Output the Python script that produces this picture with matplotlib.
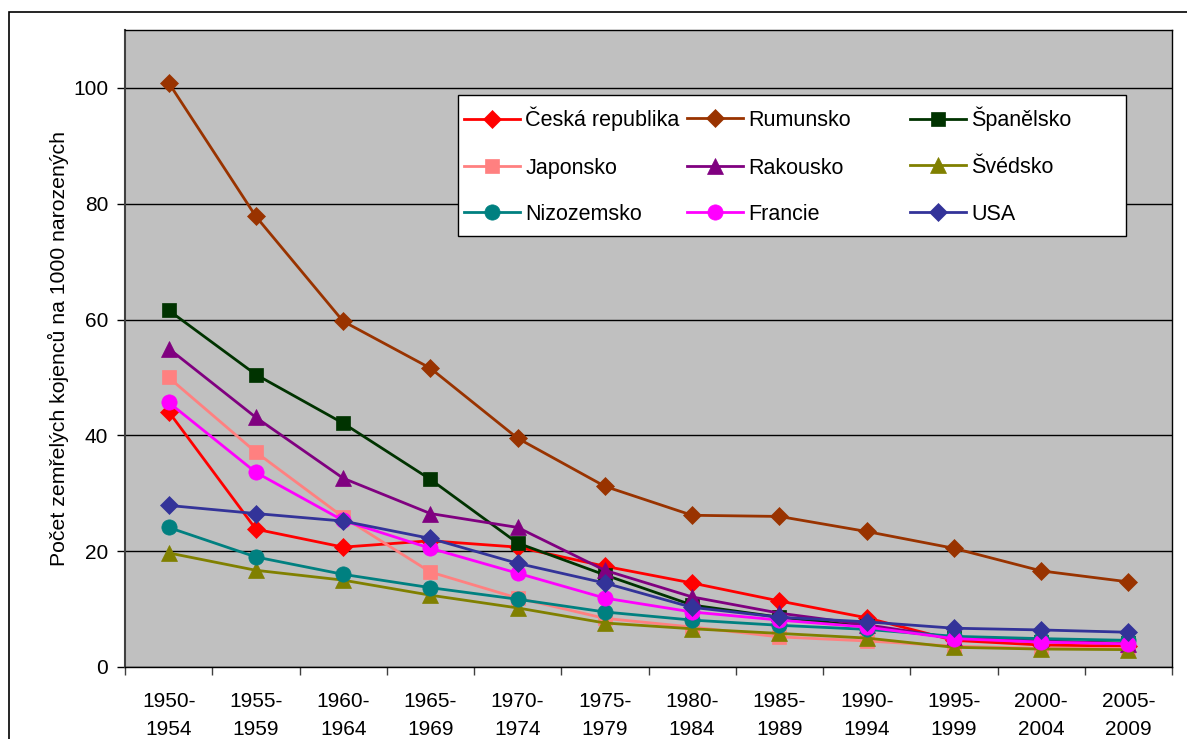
import matplotlib
matplotlib.use("Agg")
import matplotlib.pyplot as plt
from matplotlib.patches import Rectangle

plt.rcParams['font.family'] = ['Liberation Sans', 'DejaVu Sans']

periods = ["1950-\n1954", "1955-\n1959", "1960-\n1964", "1965-\n1969", "1970-\n1974", "1975-\n1979",
           "1980-\n1984", "1985-\n1989", "1990-\n1994", "1995-\n1999", "2000-\n2004", "2005-\n2009"]

cesko = [44.1, 23.8, 20.7, 21.8, 20.7, 17.4, 14.5, 11.4, 8.5, 4.6, 3.8, 3.6]
rumunsko = [100.9, 77.8, 59.7, 51.6, 39.5, 31.2, 26.2, 26.0, 23.4, 20.5, 16.6, 14.7]
spanelsko = [61.6, 50.5, 42.1, 32.4, 21.4, 15.9, 10.7, 8.6, 7.0, 5.0, 4.4, 4.1]
japonsko = [50.0, 37.1, 25.9, 16.4, 11.9, 8.4, 6.9, 5.2, 4.5, 3.6, 3.2, 3.2]
rakousko = [55.0, 43.1, 32.6, 26.5, 24.1, 16.7, 12.1, 9.3, 7.3, 5.0, 4.5, 4.0]
svedsko = [19.7, 16.7, 15.0, 12.4, 10.2, 7.6, 6.6, 5.8, 5.0, 3.4, 3.1, 3.0]
nizozemsko = [24.1, 19.0, 16.0, 13.7, 11.7, 9.5, 8.1, 7.2, 6.5, 5.3, 4.9, 4.6]
francie = [45.7, 33.6, 25.3, 20.5, 16.2, 11.9, 9.5, 8.1, 6.9, 4.9, 4.3, 4.0]
usa = [27.9, 26.5, 25.2, 22.2, 17.9, 14.5, 10.3, 8.6, 7.8, 6.7, 6.4, 6.0]

series = [
    ("Česká republika", cesko, "#FF0000", "D", 9.0),
    ("Rumunsko", rumunsko, "#993300", "D", 9.0),
    ("Španělsko", spanelsko, "#003300", "s", 10.5),
    ("Japonsko", japonsko, "#FF8080", "s", 10.5),
    ("Rakousko", rakousko, "#800080", "^", 11),
    ("Švédsko", svedsko, "#808000", "^", 11),
    ("Nizozemsko", nizozemsko, "#008080", "o", 11),
    ("Francie", francie, "#FF00FF", "o", 11),
    ("USA", usa, "#333399", "D", 9.0),
]

W, H = 1187, 739
AX_L, AX_R, AX_T, AX_B = 125, 1172, 30, 667
fig = plt.figure(figsize=(W / 100, H / 100), dpi=100)
ax = fig.add_axes([AX_L / W, 1 - AX_B / H, (AX_R - AX_L) / W, (AX_B - AX_T) / H])
ax.set_facecolor("#C0C0C0")

# outer chart frame
fig.patches.append(Rectangle((9 / W, -0.1), 1.2, 1 - 12 / H + 0.1, transform=fig.transFigure,
                             fill=False, edgecolor="black", linewidth=1.2, zorder=0))

x = list(range(len(periods)))
handles = []
for name, vals, col, mk, ms in series:
    ln, = ax.plot(x, vals, color=col, linewidth=2.0, marker=mk, markersize=ms,
                  markerfacecolor=col, markeredgecolor=col, markeredgewidth=0.5, label=name,
                  clip_on=False)
    handles.append(ln)

ax.set_xlim(-0.5, 11.5)
ax.set_ylim(0, 110)
ax.set_yticks([0, 20, 40, 60, 80, 100])
ax.tick_params(axis='y', labelsize=15, length=6, width=1, pad=6, colors='black')
ax.yaxis.grid(True, color='black', linewidth=1)
ax.set_axisbelow(True)

ax.set_xticks([i - 0.5 for i in range(13)])
ax.set_xticklabels([])
ax.tick_params(axis='x', which='major', length=6, width=1, color='#404040')
ax.set_xticks(x, minor=True)
ax.set_xticklabels(periods, minor=True, fontsize=15, linespacing=1.6)
ax.tick_params(axis='x', which='minor', length=0, pad=18)

for s in ax.spines.values():
    s.set_color('black')
    s.set_linewidth(1)
ax.spines['left'].set_color('#404040')
ax.spines['left'].set_linewidth(1.5)

ax.set_ylabel("Počet zemřelých kojenců na 1000 narozených", fontsize=15.3, labelpad=3)


def ax_x(px):
    return (px - AX_L) / (AX_R - AX_L)


def ax_y(py):
    return (AX_B - py) / (AX_B - AX_T)


# legend frame
ax.add_patch(Rectangle((ax_x(458), ax_y(236)), ax_x(1126) - ax_x(458), ax_y(95) - ax_y(236),
                       transform=ax.transAxes, facecolor='white', edgecolor='black',
                       linewidth=1, zorder=4.8, clip_on=False))

col_starts = [464, 687, 910]
row_centers = [118.5, 167, 213]
legends = []
for i, h in enumerate(handles):
    r, c = divmod(i, 3)
    lab = h.get_label()
    tall = lab[0] in "ČŠ"
    yc = row_centers[r] + (0.5 if tall else 1.5)
    lg = ax.legend(handles=[h], labels=[lab],
                   loc='center left', bbox_to_anchor=(ax_x(col_starts[c]), ax_y(yc)),
                   fontsize=15.5, handlelength=2.6, handletextpad=0.25,
                   borderpad=0, borderaxespad=0, frameon=False)
    lg.set_zorder(5)
    legends.append(lg)
for lg in legends[:-1]:
    ax.add_artist(lg)

fig.savefig("out.png", dpi=100)
